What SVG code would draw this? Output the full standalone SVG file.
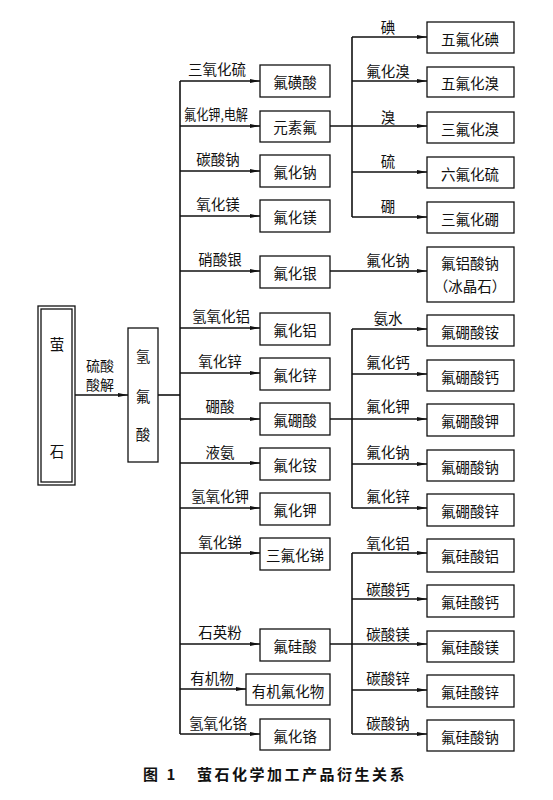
<svg xmlns="http://www.w3.org/2000/svg" width="553" height="800" viewBox="0 0 553 800">
<style>
.bx{fill:#fff;stroke:#111;stroke-width:1.3}
.ln{fill:none;stroke:#111;stroke-width:1.6}
.ar{fill:none;stroke:#111;stroke-width:1.6;marker-end:url(#ah)}
text{font-family:"Noto Sans CJK SC","Noto Sans CJK JP",sans-serif;font-size:14.5px;fill:#111;text-anchor:middle;dominant-baseline:central}
.sm{font-size:14px}
.cap{font-size:15px;font-weight:bold;text-anchor:start;letter-spacing:2.5px}
</style>
<defs>
<marker id="ah" markerUnits="userSpaceOnUse" markerWidth="11" markerHeight="6" refX="10" refY="3" orient="auto">
<path d="M0,0.9 L10,3 L0,5.1 z" fill="#111"/>
</marker>
</defs>
<rect width="553" height="800" fill="#fff"/>
<g id="connectors">
<line class="ar" x1="75" y1="395" x2="128" y2="395"/>
<line class="ln" x1="158" y1="395" x2="180" y2="395"/>
<line class="ln" x1="180" y1="81" x2="180" y2="734"/>
<line class="ar" x1="180" y1="81" x2="260" y2="81"/>
<line class="ar" x1="180" y1="126" x2="260" y2="126"/>
<line class="ar" x1="180" y1="171" x2="260" y2="171"/>
<line class="ar" x1="180" y1="216" x2="260" y2="216"/>
<line class="ar" x1="180" y1="271" x2="260" y2="271"/>
<line class="ar" x1="180" y1="328" x2="260" y2="328"/>
<line class="ar" x1="180" y1="373" x2="260" y2="373"/>
<line class="ar" x1="180" y1="419" x2="260" y2="419"/>
<line class="ar" x1="180" y1="463" x2="260" y2="463"/>
<line class="ar" x1="180" y1="508" x2="260" y2="508"/>
<line class="ar" x1="180" y1="553" x2="260" y2="553"/>
<line class="ar" x1="180" y1="644" x2="260" y2="644"/>
<line class="ar" x1="180" y1="689" x2="246" y2="689"/>
<line class="ar" x1="180" y1="734" x2="260" y2="734"/>
<line class="ln" x1="352" y1="37" x2="352" y2="217"/>
<line class="ar" x1="352" y1="37" x2="427" y2="37"/>
<line class="ar" x1="352" y1="81" x2="427" y2="81"/>
<line class="ar" x1="330" y1="126" x2="427" y2="126"/>
<line class="ar" x1="352" y1="172" x2="427" y2="172"/>
<line class="ar" x1="352" y1="217" x2="427" y2="217"/>
<line class="ar" x1="330" y1="271" x2="427" y2="271"/>
<line class="ln" x1="352" y1="329" x2="352" y2="508"/>
<line class="ar" x1="352" y1="329" x2="427" y2="329"/>
<line class="ar" x1="352" y1="374" x2="427" y2="374"/>
<line class="ar" x1="330" y1="419" x2="427" y2="419"/>
<line class="ar" x1="352" y1="464" x2="427" y2="464"/>
<line class="ar" x1="352" y1="508" x2="427" y2="508"/>
<line class="ln" x1="352" y1="553" x2="352" y2="734"/>
<line class="ar" x1="352" y1="553" x2="427" y2="553"/>
<line class="ar" x1="352" y1="599" x2="427" y2="599"/>
<line class="ar" x1="330" y1="644" x2="427" y2="644"/>
<line class="ar" x1="352" y1="690" x2="427" y2="690"/>
<line class="ar" x1="352" y1="734" x2="427" y2="734"/>
</g>
<g id="edge-labels">
<text class="sm" x="100" y="365">硫酸</text>
<text class="sm" x="100" y="384">酸解</text>
<text x="217" y="68">三氧化硫</text>
<text x="216" y="113" textLength="64" lengthAdjust="spacingAndGlyphs">氟化钾,电解</text>
<text x="218" y="158">碳酸钠</text>
<text x="218" y="203">氧化镁</text>
<text x="220" y="258">硝酸银</text>
<text x="221" y="315">氢氧化铝</text>
<text x="220" y="360">氧化锌</text>
<text x="220" y="405">硼酸</text>
<text x="220" y="451">液氨</text>
<text x="220" y="495">氢氧化钾</text>
<text x="220" y="541">氧化锑</text>
<text x="220" y="631">石英粉</text>
<text x="212" y="677">有机物</text>
<text x="218" y="722">氢氧化铬</text>
<text x="388" y="26">碘</text>
<text x="388" y="70">氟化溴</text>
<text x="388" y="116">溴</text>
<text x="388" y="160">硫</text>
<text x="388" y="205">硼</text>
<text x="388" y="259">氟化钠</text>
<text x="388" y="317">氨水</text>
<text x="388" y="361">氟化钙</text>
<text x="388" y="405">氟化钾</text>
<text x="388" y="451">氟化钠</text>
<text x="388" y="495">氟化锌</text>
<text x="388" y="542">氧化铝</text>
<text x="388" y="588">碳酸钙</text>
<text x="388" y="633">碳酸镁</text>
<text x="388" y="677">碳酸锌</text>
<text x="388" y="722">碳酸钠</text>
</g>
<g id="n-yingshi"><rect class="bx" x="38" y="306" width="37" height="179"/><rect class="bx" x="41" y="309" width="31" height="173"/><text x="57" y="343">萤</text><text x="57" y="450">石</text></g>
<g id="n-hf"><rect class="bx" x="128" y="328" width="30" height="134"/><text x="143" y="355">氢</text><text x="143" y="395">氟</text><text x="143" y="433">酸</text></g>
<g id="n1"><rect class="bx" x="260" y="65" width="70" height="32"/><text x="295" y="81">氟磺酸</text></g>
<g id="n2"><rect class="bx" x="260" y="111" width="70" height="31"/><text x="295" y="126">元素氟</text></g>
<g id="n3"><rect class="bx" x="260" y="155" width="70" height="32"/><text x="295" y="171">氟化钠</text></g>
<g id="n4"><rect class="bx" x="260" y="200" width="70" height="32"/><text x="295" y="216">氟化镁</text></g>
<g id="n5"><rect class="bx" x="260" y="256" width="70" height="32"/><text x="295" y="272">氟化银</text></g>
<g id="n6"><rect class="bx" x="260" y="313" width="70" height="32"/><text x="295" y="329">氟化铝</text></g>
<g id="n7"><rect class="bx" x="260" y="358" width="70" height="32"/><text x="295" y="374">氟化锌</text></g>
<g id="n8"><rect class="bx" x="260" y="403" width="70" height="32"/><text x="295" y="419">氟硼酸</text></g>
<g id="n9"><rect class="bx" x="260" y="448" width="70" height="32"/><text x="295" y="464">氟化铵</text></g>
<g id="n10"><rect class="bx" x="260" y="493" width="70" height="32"/><text x="295" y="509">氟化钾</text></g>
<g id="n11"><rect class="bx" x="260" y="538" width="70" height="32"/><text x="295" y="554">三氟化锑</text></g>
<g id="n12"><rect class="bx" x="260" y="629" width="70" height="32"/><text x="295" y="645">氟硅酸</text></g>
<g id="n13"><rect class="bx" x="246" y="674" width="84" height="31"/><text x="288" y="690">有机氟化物</text></g>
<g id="n14"><rect class="bx" x="260" y="719" width="70" height="31"/><text x="295" y="735">氟化铬</text></g>
<g id="r1"><rect class="bx" x="427" y="22" width="87" height="31"/><text x="470" y="38">五氟化碘</text></g>
<g id="r2"><rect class="bx" x="427" y="67" width="87" height="30"/><text x="470" y="82">五氟化溴</text></g>
<g id="r3"><rect class="bx" x="427" y="112" width="87" height="31"/><text x="470" y="128">三氟化溴</text></g>
<g id="r4"><rect class="bx" x="427" y="157" width="87" height="31"/><text x="470" y="173">六氟化硫</text></g>
<g id="r5"><rect class="bx" x="427" y="202" width="87" height="31"/><text x="470" y="218">三氟化硼</text></g>
<g id="r6"><rect class="bx" x="427" y="247" width="87" height="55"/><text x="470" y="262">氟铝酸钠</text><text x="470" y="285">（冰晶石）</text></g>
<g id="r7"><rect class="bx" x="427" y="315" width="87" height="31"/><text x="470" y="331">氟硼酸铵</text></g>
<g id="r8"><rect class="bx" x="427" y="360" width="87" height="31"/><text x="470" y="376">氟硼酸钙</text></g>
<g id="r9"><rect class="bx" x="427" y="404" width="87" height="32"/><text x="470" y="420">氟硼酸钾</text></g>
<g id="r10"><rect class="bx" x="427" y="450" width="87" height="31"/><text x="470" y="466">氟硼酸钠</text></g>
<g id="r11"><rect class="bx" x="427" y="494" width="87" height="32"/><text x="470" y="510">氟硼酸锌</text></g>
<g id="r12"><rect class="bx" x="427" y="539" width="87" height="33"/><text x="470" y="555">氟硅酸铝</text></g>
<g id="r13"><rect class="bx" x="427" y="585" width="87" height="32"/><text x="470" y="601">氟硅酸钙</text></g>
<g id="r14"><rect class="bx" x="427" y="631" width="87" height="31"/><text x="470" y="646">氟硅酸镁</text></g>
<g id="r15"><rect class="bx" x="427" y="675" width="87" height="32"/><text x="470" y="691">氟硅酸锌</text></g>
<g id="r16"><rect class="bx" x="427" y="720" width="87" height="31"/><text x="470" y="736">氟硅酸钠</text></g>
<g id="caption"><text class="cap" x="143" y="773">图 1</text><text class="cap" x="197" y="773">萤石化学加工产品衍生关系</text></g>
</svg>
